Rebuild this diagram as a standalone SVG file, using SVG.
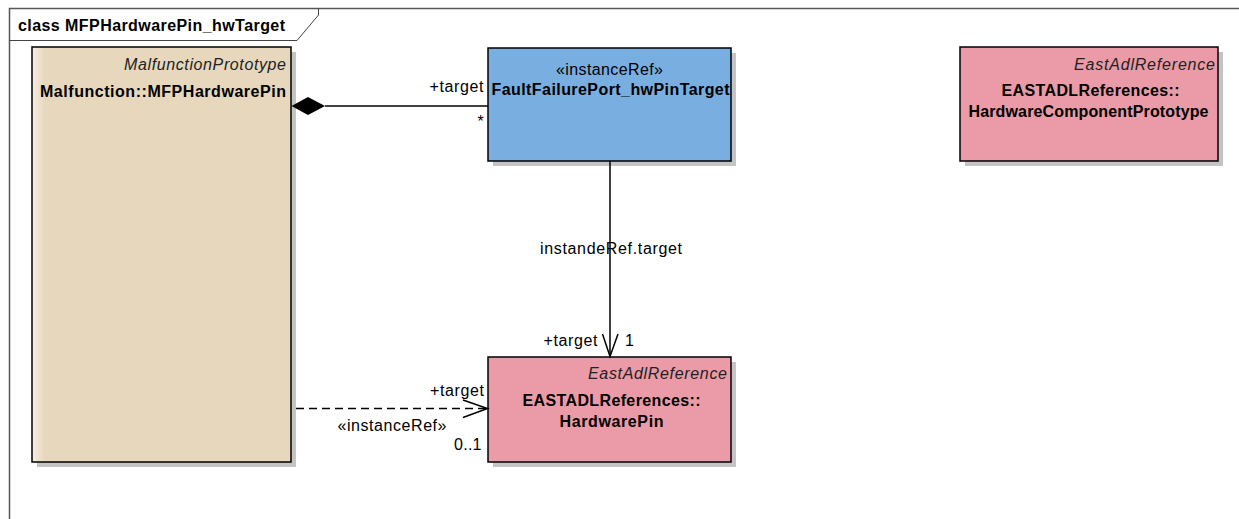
<svg xmlns="http://www.w3.org/2000/svg" width="1239" height="519" viewBox="0 0 1239 519">
<style>
text{font-family:"Liberation Sans",Arial,sans-serif;font-size:16px;fill:#000}
.b{font-weight:bold}
.i{font-style:italic;fill:#222}
.box{stroke:#000;stroke-width:1.5}
.sh{fill:#c4c4c4}
.ln{stroke:#000;stroke-width:1.5;fill:none}
</style>
<defs>
<linearGradient id="gBeige" x1="0" y1="0" x2="1" y2="0">
<stop offset="0" stop-color="#f6eddf"/>
<stop offset="0.05" stop-color="#e7d7bd"/>
<stop offset="1" stop-color="#e7d7bd"/>
</linearGradient>
</defs>
<rect width="1239" height="519" fill="#fff"/>
<g id="frame">
<path d="M9.5 519 V8.5 H1239" fill="none" stroke="#555" stroke-width="1.5"/>
<path d="M9.5 40.5 H297 L318.5 15 V8.5" fill="none" stroke="#444" stroke-width="1"/>
<text class="b" x="18" y="31" textLength="267" lengthAdjust="spacing">class MFPHardwarePin_hwTarget</text>
</g>
<g id="MFPHardwarePin">
<rect class="sh" x="37" y="52" width="259" height="415"/>
<rect class="box" x="32" y="47" width="259" height="415" fill="url(#gBeige)"/>
<text class="i" x="286" y="70" text-anchor="end" textLength="162" lengthAdjust="spacing">MalfunctionPrototype</text>
<text class="b" x="40" y="97" textLength="246" lengthAdjust="spacing">Malfunction::MFPHardwarePin</text>
</g>
<g id="FaultFailurePort_hwPinTarget">
<rect class="sh" x="493" y="53" width="243" height="113"/>
<rect class="box" x="488" y="48" width="243" height="113" fill="#79aee1"/>
<text x="556" y="75" textLength="107" lengthAdjust="spacing">«instanceRef»</text>
<text class="b" x="491.5" y="95" textLength="238" lengthAdjust="spacing">FaultFailurePort_hwPinTarget</text>
</g>
<g id="HardwareComponentPrototype">
<rect class="sh" x="965" y="52" width="258" height="114"/>
<rect class="box" x="960" y="47" width="258" height="114" fill="#ea9ba7"/>
<text class="i" x="1215" y="69.5" text-anchor="end" textLength="141" lengthAdjust="spacing">EastAdlReference</text>
<text class="b" x="1001.5" y="96" textLength="178" lengthAdjust="spacing">EASTADLReferences::</text>
<text class="b" x="968.5" y="117" textLength="240" lengthAdjust="spacing">HardwareComponentPrototype</text>
</g>
<g id="HardwarePin">
<rect class="sh" x="493" y="362" width="243" height="105"/>
<rect class="box" x="488" y="357" width="243" height="105" fill="#ea9ba7"/>
<text class="i" x="727" y="379" text-anchor="end" textLength="139" lengthAdjust="spacing">EastAdlReference</text>
<text class="b" x="522.5" y="406" textLength="178" lengthAdjust="spacing">EASTADLReferences::</text>
<text class="b" x="559.5" y="427" textLength="104" lengthAdjust="spacing">HardwarePin</text>
</g>
<g id="connectors">
<line class="ln" x1="325" y1="106" x2="488" y2="106"/>
<polygon points="291.5,106 308,97 325,106 308,115" fill="#000"/>
<text x="429.5" y="92" textLength="54" lengthAdjust="spacing">+target</text>
<text x="477.5" y="127">*</text>
<line class="ln" x1="610" y1="161" x2="610" y2="356"/>
<polyline class="ln" points="602.5,334 610,356.5 618,334"/>
<text x="611" y="254" text-anchor="middle" textLength="142" lengthAdjust="spacing">instandeRef.target</text>
<text x="543.5" y="346" textLength="54" lengthAdjust="spacing">+target</text>
<text x="625" y="346">1</text>
<line class="ln" x1="296" y1="408.5" x2="486" y2="408.5" stroke-dasharray="8,5"/>
<polyline class="ln" points="463,400 487.5,408.5 463,417.5"/>
<text x="430" y="395.5" textLength="54" lengthAdjust="spacing">+target</text>
<text x="337.5" y="430.5" textLength="109" lengthAdjust="spacing">«instanceRef»</text>
<text x="454" y="450" textLength="27.5" lengthAdjust="spacing">0..1</text>
</g>
</svg>
